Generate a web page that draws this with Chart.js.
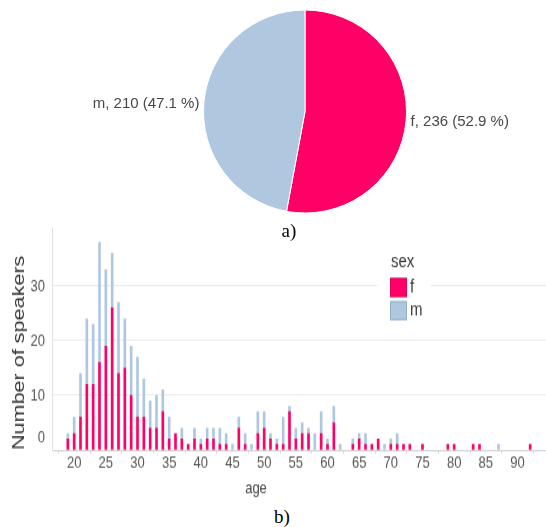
<!DOCTYPE html>
<html>
<head>
<meta charset="utf-8">
<script src="https://cdn.jsdelivr.net/npm/chart.js@4.4.1/dist/chart.umd.min.js"></script>
<style>
  html, body { margin: 0; padding: 0; background: #fff; }
  body { width: 546px; height: 527px; overflow: hidden; position: relative;
         font-family: "Liberation Sans", Arial, sans-serif; }
  #pieBox { position: absolute; left: 0; top: 0; width: 546px; height: 215px; }
  /* the age histogram is drawn on a canvas that is stretched vertically */
  #barBox { position: absolute; left: 0; top: 210px; width: 546px; height: 232px;
            transform: scaleY(1.27); transform-origin: 0 0; }
  .cap { position: absolute; width: 40px; text-align: center; line-height: 20px;
         font-family: "Liberation Serif", "Times New Roman", serif; font-size: 19px; color: #000; }
</style>
</head>
<body>
<div id="pieBox"><canvas id="pie" width="546" height="215"></canvas></div>
<div id="barBox"><canvas id="bars" width="546" height="232"></canvas></div>
<div class="cap" style="left:269px; top:221px;">a)</div>
<div class="cap" style="left:262px; top:507px;">b)</div>

<script>
// Speakers by sex
const sexLabels = ['f', 'm'];
const sexCounts = [236, 210];
const sexColors = ['#FF0066', '#AFC8E0'];
const sexBorders = ['#E8005C', '#93AECB'];

// Speakers by age (19 .. 92), split by sex
const ages = [
  19, 20, 21, 22, 23, 24, 25, 26, 27, 28, 29, 30, 31, 32, 33, 34, 35, 36, 37, 38, 39,
  40, 41, 42, 43, 44, 45, 46, 47, 48, 49, 50, 51, 52, 53, 54, 55, 56, 57, 58, 59,
  60, 61, 62, 63, 64, 65, 66, 67, 68, 69, 70, 71, 72, 73, 74, 75, 76, 77, 78, 79,
  80, 81, 82, 83, 84, 85, 86, 87, 88, 89, 90, 91, 92
];
const femaleCounts = [
  2, 3, 6, 12, 12, 16, 19, 26, 14, 15, 10, 6, 6, 4, 4, 7, 2, 3, 2, 1, 2,
  1, 2, 2, 1, 1, 0, 4, 1, 0, 3, 4, 2, 1, 1, 7, 2, 3, 3, 0, 3,
  1, 5, 0, 0, 1, 2, 1, 1, 2, 0, 1, 1, 1, 1, 0, 1, 0, 0, 0, 1,
  1, 0, 0, 1, 1, 0, 0, 0, 0, 0, 0, 0, 1
];
const maleCounts = [
  1, 3, 8, 12, 11, 22, 14, 10, 13, 9, 9, 11, 7, 5, 6, 4, 4, 0, 2, 0, 2,
  1, 2, 2, 3, 2, 1, 2, 2, 1, 4, 3, 1, 1, 5, 1, 2, 2, 1, 3, 4,
  1, 3, 1, 0, 1, 1, 2, 0, 0, 1, 1, 2, 0, 0, 0, 0, 0, 0, 0, 0,
  0, 0, 0, 0, 0, 0, 0, 1, 0, 0, 0, 0, 0
];
const ageTicks = [20, 25, 30, 35, 40, 45, 50, 55, 60, 65, 70, 75, 80, 85, 90];
const countTicks = [0, 10, 20, 30];

const FONT = '"Liberation Sans", Arial, sans-serif';

// ---------- pie: share of each sex ----------
const pieLabels = {
  id: 'pieLabels',
  afterDatasetsDraw(chart) {
    const ctx = chart.ctx;
    const meta = chart.getDatasetMeta(0);
    const total = sexCounts.reduce((a, b) => a + b, 0);
    ctx.save();
    ctx.font = '15px ' + FONT;
    ctx.fillStyle = '#474747';
    ctx.textBaseline = 'middle';
    meta.data.forEach((arc, i) => {
      const p = arc.getProps(['x', 'y', 'startAngle', 'endAngle', 'outerRadius'], true);
      const mid = (p.startAngle + p.endAngle) / 2;
      const px = p.x + Math.cos(mid) * (p.outerRadius + 4.5);
      const py = p.y + Math.sin(mid) * p.outerRadius + 1.5;
      ctx.textAlign = Math.cos(mid) >= 0 ? 'left' : 'right';
      const pct = (sexCounts[i] / total * 100).toFixed(1);
      ctx.fillText(`${sexLabels[i]}, ${sexCounts[i]} (${pct} %)`, px, py);
    });
    ctx.restore();
  }
};

new Chart(document.getElementById('pie'), {
  type: 'pie',
  data: {
    labels: sexLabels,
    datasets: [{
      data: sexCounts,
      backgroundColor: sexColors,
      borderColor: '#ffffff',
      borderWidth: 1,
      hoverOffset: 0
    }]
  },
  options: {
    responsive: false,
    animation: false,
    events: [],
    layout: { padding: { left: 203, right: 139, top: 9.5, bottom: 1.5 } },
    plugins: { legend: { display: false }, tooltip: { enabled: false } }
  },
  plugins: [pieLabels]
});

// ---------- stacked histogram of ages ----------
const toPoints = counts => ages
  .map((a, i) => ({ x: a, y: counts[i] }))
  .filter(p => p.y > 0);

const sexLegend = {
  id: 'sexLegend',
  afterDraw(chart) {
    const ctx = chart.ctx;
    ctx.save();
    // legend panel sits over the grid
    ctx.fillStyle = '#ffffff';
    ctx.fillRect(377, 31, 54, 69);
    ctx.font = '15px ' + FONT;
    ctx.textBaseline = 'middle';
    ctx.textAlign = 'left';
    ctx.fillStyle = '#3a3a3a';
    ctx.fillText('sex', 391, 41.3);
    chart.data.datasets.forEach((ds, i) => {
      const top = 53.5 + i * 18.2;
      ctx.fillStyle = ds.backgroundColor;
      ctx.fillRect(390, top, 17, 15);
      ctx.strokeStyle = sexBorders[i];
      ctx.lineWidth = 1;
      ctx.strokeRect(390.5, top + 0.5, 16, 14);
      ctx.fillStyle = '#3a3a3a';
      ctx.fillText(ds.label, 410, top + 7.5);
    });
    // x axis title
    ctx.font = '13px ' + FONT;
    ctx.fillStyle = '#444';
    ctx.textAlign = 'center';
    ctx.fillText('age', 256, 219.7);
    ctx.restore();
  }
};

new Chart(document.getElementById('bars'), {
  type: 'bar',
  data: {
    datasets: [
      { label: sexLabels[0], data: toPoints(femaleCounts), backgroundColor: sexColors[0], barThickness: 2 },
      { label: sexLabels[1], data: toPoints(maleCounts), backgroundColor: sexColors[1], barThickness: 2 }
    ]
  },
  options: {
    responsive: false,
    animation: false,
    events: [],
    layout: { padding: { left: 0, right: 0, top: 8, bottom: 24.4 } },
    plugins: { legend: { display: false }, tooltip: { enabled: false } },
    scales: {
      x: {
        type: 'linear',
        min: 16.5,
        max: 94.5,
        offset: false,
        stacked: true,
        afterBuildTicks: s => { s.ticks = ageTicks.map(v => ({ value: v })); },
        ticks: { color: '#555', padding: 0, maxRotation: 0, autoSkip: false,
                 font: { family: FONT, size: 13 }, callback: v => String(v) },
        grid: { drawOnChartArea: false, drawTicks: true, tickLength: 3, color: '#dcdcdc' },
        border: { color: '#cfcfcf' }
      },
      y: {
        min: 0,
        max: 40.5,
        stacked: true,
        afterBuildTicks: s => { s.ticks = countTicks.map(v => ({ value: v })); },
        afterFit: s => { s.width = 52; },
        ticks: {
          color: '#555',
          padding: 7,
          font: c => ({ family: FONT, size: 13,
                        lineHeight: (c.tick && c.tick.value === 0) ? 1.45 : 1.2 }),
          callback: v => v === 0 ? ['0', ''] : String(v)
        },
        grid: { drawTicks: false,
                color: c => (c.tick && c.tick.value === 0) ? '#cfcfcf' : '#ebebeb' },
        border: { color: '#e2e2e2' },
        title: { display: true, text: 'Number of speakers', align: 'start', color: '#333',
                 font: { family: FONT, size: 17 }, padding: { top: 9, bottom: 0 } }
      }
    }
  },
  plugins: [sexLegend]
});
</script>
</body>
</html>
